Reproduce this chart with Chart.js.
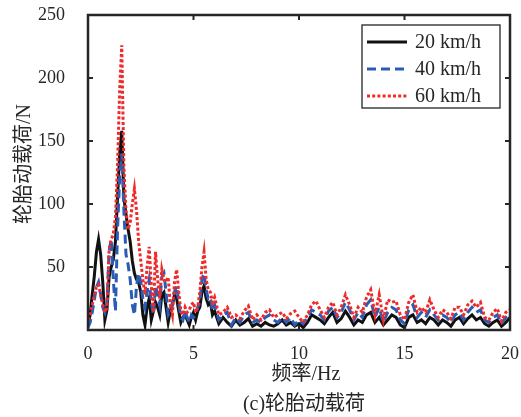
<!DOCTYPE html>
<html>
<head>
<meta charset="utf-8">
<script src="https://cdn.jsdelivr.net/npm/chart.js@4/dist/chart.umd.min.js"></script>
<style>
  html, body { margin: 0; padding: 0; background: #fff; }
  #wrap { width: 521px; height: 417px; }
</style>
</head>
<body>
<div id="wrap"><canvas id="c" width="521" height="417"></canvas></div>
<script>
// ---- data ----
const seriesLabels = ['20 km/h', '40 km/h', '60 km/h'];
const xTickValues = [0, 5, 10, 15, 20];
const yTickValues = [50, 100, 150, 200, 250];
const xTitle = '频率/Hz';
const yTitle = '轮胎动载荷/N';
const caption = '(c)轮胎动载荷';

const freq = [
  0.0, 0.1, 0.2, 0.3, 0.4, 0.5, 0.6, 0.7, 0.8, 0.9,
  1.0, 1.1, 1.2, 1.3, 1.4, 1.5, 1.6, 1.7, 1.8, 1.9,
  2.0, 2.1, 2.2, 2.3, 2.4, 2.5, 2.6, 2.7, 2.8, 2.9,
  3.0, 3.1, 3.2, 3.3, 3.4, 3.5, 3.6, 3.7, 3.8, 3.9,
  4.0, 4.1, 4.2, 4.3, 4.4, 4.5, 4.6, 4.7, 4.8, 4.9,
  5.0, 5.1, 5.2, 5.3, 5.4, 5.5, 5.6, 5.7, 5.8, 5.9,
  6.0, 6.2, 6.4, 6.6, 6.8, 7.0, 7.2, 7.4, 7.6, 7.8,
  8.0, 8.2, 8.4, 8.6, 8.8, 9.0, 9.2, 9.4, 9.6, 9.8,
  10.0, 10.2, 10.4, 10.6, 10.8, 11.0, 11.2, 11.4, 11.6, 11.8,
  12.0, 12.2, 12.4, 12.6, 12.8, 13.0, 13.2, 13.4, 13.6, 13.8,
  14.0, 14.2, 14.4, 14.6, 14.8, 15.0, 15.2, 15.4, 15.6, 15.8,
  16.0, 16.2, 16.4, 16.6, 16.8, 17.0, 17.2, 17.4, 17.6, 17.8,
  18.0, 18.2, 18.4, 18.6, 18.8, 19.0, 19.2, 19.4, 19.6, 19.8,
  20.0
];

const load20 = [
  3, 12, 28, 43, 62, 72, 60, 38, 8, 16,
  42, 50, 56, 70, 105, 140, 158, 105, 92, 80,
  70, 55, 45, 40, 38, 30, 12, 4, 18, 25,
  8, 15, 22, 18, 12, 28, 30, 18, 6, 15,
  20, 28, 25, 15, 6, 10, 12, 8, 4, 10,
  14, 8, 15, 18, 30, 35, 25, 20, 22, 12,
  15, 5, 10, 6, 3, 8, 4, 6, 9, 3,
  5, 3, 6, 4, 3, 5, 8, 4, 6, 3,
  5, 2, 6, 12, 10, 8, 5, 10, 14, 6,
  9, 15, 10, 4, 8, 6, 12, 14, 6, 10,
  4, 8, 12, 10, 4, 2, 10, 12, 6, 8,
  5, 10, 8, 4, 8, 6, 3, 8, 10, 5,
  9, 12, 8, 10, 5, 3, 6, 8, 3, 6,
  10
];

const load40 = [
  2, 6, 14, 24, 34, 38, 28, 18, 14, 22,
  62, 72, 40, 15, 80, 120, 140, 95, 60, 52,
  40, 20, 12, 35, 45, 38, 25, 18, 30, 40,
  22, 12, 35, 28, 20, 42, 45, 30, 12, 15,
  22, 30, 35, 22, 10, 8, 15, 10, 6, 12,
  10, 12, 18, 22, 40, 45, 32, 25, 26, 15,
  20, 8, 12, 14, 4, 10, 6, 12, 14, 6,
  8, 6, 10, 12, 8, 6, 10, 6, 10, 4,
  8, 5, 10, 16, 14, 12, 8, 15, 18, 10,
  14, 22, 16, 8, 14, 10, 20, 24, 10, 18,
  6, 14, 18, 16, 8, 5, 16, 20, 10, 14,
  10, 16, 12, 8, 12, 10, 6, 12, 14, 8,
  14, 18, 14, 16, 8, 6, 10, 12, 5, 10,
  14
];

const load60 = [
  8, 12, 20, 28, 34, 36, 28, 20, 14, 18,
  64, 72, 76, 90, 130, 190, 226, 130, 95, 80,
  85, 100, 112, 95, 70, 55, 40, 28, 50, 66,
  35, 14, 62, 40, 25, 48, 40, 38, 42, 20,
  12, 38, 48, 30, 15, 12, 18, 14, 16, 20,
  22, 14, 18, 30, 50, 62, 40, 32, 30, 22,
  26, 12, 14, 18, 10, 12, 9, 15, 19, 8,
  12, 8, 14, 16, 10, 12, 14, 9, 13, 15,
  10, 6, 12, 20, 23, 16, 10, 18, 22, 12,
  18, 28, 20, 10, 18, 14, 26, 32, 12, 28,
  8, 24, 22, 23, 12, 8, 22, 28, 14, 18,
  14, 24, 16, 10, 16, 14, 9, 18, 18, 12,
  20, 23, 18, 22, 10, 8, 14, 17, 7, 14,
  16
];

const colors = ['#111111', '#2a5cb5', '#ee2a2a'];
const dashes = [[], [9, 5], [3, 2.2]];
const orders = [3, 2, 1];

const serifFont = '"Liberation Serif", "Times New Roman", "Noto Sans CJK SC", serif';
const textColor = '#262626';

function toPoints(xs, ys) {
  return xs.map((x, i) => ({ x: x, y: ys[i] }));
}

const allSeries = [load20, load40, load60];
const datasets = allSeries.map((vals, i) => ({
  label: seriesLabels[i],
  data: toPoints(freq, vals),
  borderColor: colors[i],
  backgroundColor: colors[i],
  borderWidth: 3,
  borderDash: dashes[i],
  pointRadius: 0,
  tension: 0,
  fill: false,
  order: orders[i]
}));

function zeroPadding(scale) {
  scale.paddingTop = 0;
  scale.paddingBottom = 0;
  scale.paddingLeft = 0;
  scale.paddingRight = 0;
}

// Frame, inside ticks (MATLAB style), titles and legend
const decorPlugin = {
  id: 'decor',
  afterDatasetsDraw(chart) {
    const ctx = chart.ctx;
    const a = chart.chartArea;
    const xs = chart.scales.x, ys = chart.scales.y;
    ctx.save();
    ctx.strokeStyle = '#262626';
    ctx.lineWidth = 2;
    const tl = 5;
    ctx.beginPath();
    xTickValues.forEach(v => {
      const px = xs.getPixelForValue(v);
      ctx.moveTo(px, a.bottom); ctx.lineTo(px, a.bottom - tl);
      ctx.moveTo(px, a.top); ctx.lineTo(px, a.top + tl);
    });
    yTickValues.forEach(v => {
      const py = ys.getPixelForValue(v);
      ctx.moveTo(a.left, py); ctx.lineTo(a.left + tl, py);
      ctx.moveTo(a.right, py); ctx.lineTo(a.right - tl, py);
    });
    ctx.stroke();
    ctx.lineWidth = 2.5;
    ctx.strokeRect(a.left, a.top, a.right - a.left, a.bottom - a.top);

    // legend
    const lx = 362, ly = 25, lw = 138, lh = 83;
    ctx.fillStyle = '#ffffff';
    ctx.fillRect(lx, ly, lw, lh);
    ctx.lineWidth = 1.3;
    ctx.strokeStyle = '#262626';
    ctx.strokeRect(lx, ly, lw, lh);
    const rows = [42, 69, 96];
    chart.data.datasets.forEach((ds, i) => {
      ctx.save();
      ctx.strokeStyle = ds.borderColor;
      ctx.lineWidth = 3;
      ctx.setLineDash(ds.borderDash || []);
      ctx.beginPath();
      ctx.moveTo(367, rows[i]);
      ctx.lineTo(407, rows[i]);
      ctx.stroke();
      ctx.restore();
      ctx.fillStyle = textColor;
      ctx.font = '20px ' + serifFont;
      ctx.textAlign = 'left';
      ctx.textBaseline = 'middle';
      ctx.fillText(ds.label, 415, rows[i] + 1);
    });

    ctx.fillStyle = textColor;
    ctx.font = '20px ' + serifFont;
    ctx.textAlign = 'center';
    ctx.textBaseline = 'middle';
    ctx.fillText(xTitle, 306, 375);
    ctx.fillText(caption, 304, 405);
    ctx.save();
    ctx.translate(25, 164);
    ctx.rotate(-Math.PI / 2);
    ctx.fillText(yTitle, 0, 0);
    ctx.restore();
    ctx.restore();
  }
};

new Chart(document.getElementById('c'), {
  type: 'line',
  data: { datasets: datasets },
  options: {
    responsive: false,
    animation: false,
    devicePixelRatio: 1,
    layout: { padding: { left: 0, top: 15, right: 11, bottom: 0 } },
    plugins: {
      legend: { display: false },
      tooltip: { enabled: false },
      title: { display: false }
    },
    scales: {
      x: {
        type: 'linear',
        min: 0, max: 20,
        afterFit(scale) { scale.height = 87; zeroPadding(scale); },
        afterBuildTicks(scale) { scale.ticks = xTickValues.map(v => ({ value: v })); },
        grid: { display: false },
        border: { display: false },
        ticks: {
          padding: 5,
          maxRotation: 0,
          color: textColor,
          font: { family: serifFont, size: 18 },
          callback: v => String(v)
        }
      },
      y: {
        type: 'linear',
        min: 0, max: 250,
        afterFit(scale) { scale.width = 88; zeroPadding(scale); },
        afterBuildTicks(scale) { scale.ticks = yTickValues.map(v => ({ value: v })); },
        grid: { display: false },
        border: { display: false },
        ticks: {
          padding: 15,
          color: textColor,
          font: { family: serifFont, size: 18 },
          callback: v => String(v)
        }
      }
    }
  },
  plugins: [decorPlugin]
});
</script>
</body>
</html>
